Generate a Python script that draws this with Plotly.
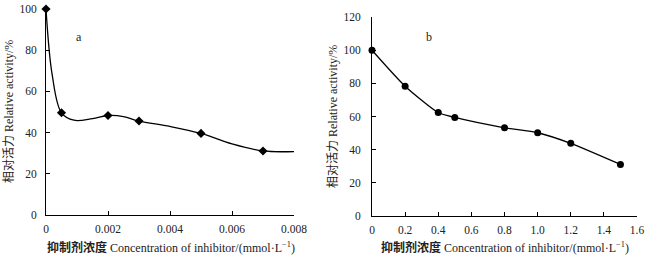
import plotly.graph_objects as go

# ---- Panel a data ----
a_x = [0, 0.0005, 0.002, 0.003, 0.005, 0.007]
a_y = [100, 49.6, 48.3, 45.6, 39.6, 31.1]
# fitted curve
a_fit_x = [0, 0.0002, 0.0005, 0.0009, 0.0015, 0.002, 0.0025, 0.003, 0.004, 0.005, 0.006, 0.007, 0.008]
a_fit_y = [100, 68, 49.6, 46.0, 46.8, 48.3, 47.8, 45.6, 43.0, 39.6, 34.5, 31.1, 30.8]
a_xticks = [0, 0.002, 0.004, 0.006, 0.008]
a_xticktext = ["0", "0.002", "0.004", "0.006", "0.008"]
a_yticks = [0, 20, 40, 60, 80, 100]

# ---- Panel b data ----
b_x = [0, 0.2, 0.4, 0.5, 0.8, 1.0, 1.2, 1.5]
b_y = [100, 78.3, 62.4, 59.4, 53.2, 50.2, 43.8, 31.1]
b_xticks = [0, 0.2, 0.4, 0.6, 0.8, 1.0, 1.2, 1.4, 1.6]
b_xticktext = ["0", "0.2", "0.4", "0.6", "0.8", "1.0", "1.2", "1.4", "1.6"]
b_yticks = [0, 20, 40, 60, 80, 100, 120]

xtitle = '<b>抑制剂浓度</b> Concentration of inhibitor/(mmol·L<sup>−1</sup>)'
ytitle = '相对活力 Relative activity/%'

FONT = "Liberation Serif, Noto Sans CJK SC"
W, H = 650, 258

fig = go.Figure()
fig.add_trace(go.Scatter(x=a_fit_x, y=a_fit_y, mode="lines",
                         line=dict(color="black", width=1.3, shape="spline", smoothing=1.0),
                         xaxis="x", yaxis="y", hoverinfo="skip"))
fig.add_trace(go.Scatter(x=a_x, y=a_y, mode="markers",
                         marker=dict(symbol="diamond", size=7, color="black"),
                         cliponaxis=False, xaxis="x", yaxis="y"))
fig.add_trace(go.Scatter(x=b_x, y=b_y, mode="lines+markers",
                         line=dict(color="black", width=1.3, shape="spline", smoothing=0.6),
                         marker=dict(symbol="circle", size=7, color="black"),
                         cliponaxis=False, xaxis="x2", yaxis="y2"))

axis_common = dict(showline=True, linecolor="black", linewidth=1, ticks="inside",
                   ticklen=4, tickcolor="black", tickwidth=1, showgrid=False, zeroline=False,
                   tickfont=dict(family=FONT, size=11.5, color="#222"))

ax_a = [46, 294]
ay_a = [9, 215]
ax_b = [372, 637]
ay_b = [17, 216]

fig.update_layout(
    width=W, height=H, margin=dict(l=0, r=0, t=0, b=0, autoexpand=False),
    paper_bgcolor="white", plot_bgcolor="white", showlegend=False,
    font=dict(family=FONT, size=12, color="#222"),
    xaxis=dict(domain=[ax_a[0] / W, ax_a[1] / W], range=[0, 0.008], tickvals=a_xticks,
               ticktext=a_xticktext, anchor="y", ticklabelstandoff=3, **axis_common),
    yaxis=dict(domain=[1 - ay_a[1] / H, 1 - ay_a[0] / H], range=[0, 100], tickvals=a_yticks,
               anchor="x", ticklabelstandoff=6, **axis_common),
    xaxis2=dict(domain=[ax_b[0] / W, ax_b[1] / W], range=[0, 1.6], tickvals=b_xticks,
                ticktext=b_xticktext, anchor="y2", ticklabelstandoff=3, **axis_common),
    yaxis2=dict(domain=[1 - ay_b[1] / H, 1 - ay_b[0] / H], range=[0, 120], tickvals=b_yticks,
                anchor="x2", ticklabelstandoff=8, **axis_common),
)

ann = [
    dict(text="a", x=79 / W, y=1 - 37 / H),
    dict(text="b", x=429 / W, y=1 - 37 / H),
    dict(text=xtitle, x=171 / W, y=1 - 247 / H),
    dict(text=xtitle, x=505 / W, y=1 - 247 / H),
    dict(text=ytitle, x=9 / W, y=1 - 112 / H, textangle=-90),
    dict(text=ytitle, x=333 / W, y=1 - 117 / H, textangle=-90),
]
for a in ann:
    fig.add_annotation(xref="paper", yref="paper", showarrow=False,
                       xanchor="center", yanchor="middle",
                       font=dict(family=FONT, size=12, color="#222"), **a)

fig.write_html("out.html", config={"displayModeBar": False, "staticPlot": True},
               post_script="document.body.style.margin='0';document.body.style.overflow='hidden';")
